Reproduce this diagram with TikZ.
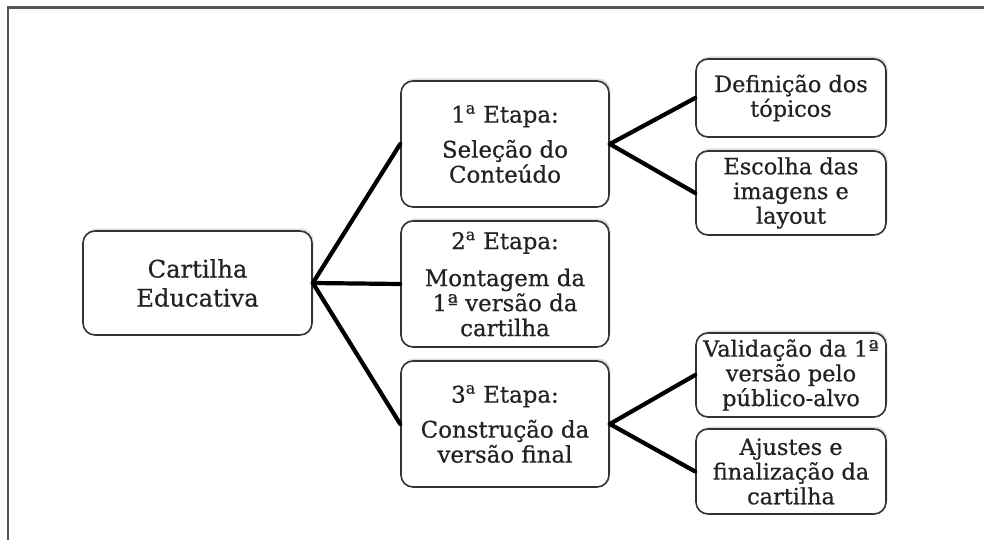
\documentclass[tikz,border=0pt]{standalone}
\usepackage{fontspec}
\setmainfont{DejaVu Serif}[FakeBold=0.6]
\usetikzlibrary{shadows}
\definecolor{boxline}{HTML}{333333}
\definecolor{framecol}{HTML}{555555}
\definecolor{txt}{HTML}{222222}
\tikzset{
  box/.style={draw=boxline, line width=1.6pt, rounded corners=12pt, fill=white,
    align=center, inner sep=0pt, text=txt,
    drop shadow={opacity=0.25, shadow xshift=1.5pt, shadow yshift=2.5pt}},
  link/.style={draw=black, line width=4.2pt, line cap=round},
  bigtxt/.style={font=\fontsize{24.2}{29}\selectfont},
  midtxt/.style={font=\fontsize{22.9}{25}\selectfont},
  smltxt/.style={font=\fontsize{22.4}{24.7}\selectfont},
}
\begin{document}
\begin{tikzpicture}[x=1pt,y=-1pt]
\useasboundingbox (0,0) rectangle (984,540);
\fill[white] (0,0) rectangle (984,540);
\coordinate (frtl) at (8,7.5);
\coordinate (frtr) at (990,7.5);
\coordinate (frbl) at (8,545);
\draw[framecol, line width=2.2pt] (frtr) -- (frtl) -- (frbl);

\node[box, bigtxt, minimum width=229pt, minimum height=104pt] (cart) at (197.5,283) {Cartilha\\Educativa};
\node[box, midtxt, minimum width=208pt, minimum height=126pt] (e1) at (505,144) {1\textsuperscript{a} Etapa:\\[10pt]Seleção do\\Conteúdo};
\node[box, midtxt, minimum width=208pt, minimum height=126pt] (e2) at (505,284) {2\textsuperscript{a} Etapa:\\[12pt]Montagem da\\1ª versão da\\cartilha};
\node[box, midtxt, minimum width=208pt, minimum height=126pt] (e3) at (505,424) {3\textsuperscript{a} Etapa:\\[10pt]Construção da\\versão final};

\node[box, smltxt, minimum width=190pt, minimum height=78pt] (def) at (791,98) {Definição dos\\tópicos};
\node[box, smltxt, minimum width=190pt, minimum height=84pt] (esc) at (791,193) {Escolha das\\imagens e\\layout};
\node[box, smltxt, minimum width=190pt, minimum height=84pt] (val) at (791,375) {Validação da 1ª\\versão pelo\\público-alvo};
\node[box, smltxt, minimum width=190pt, minimum height=85pt] (aju) at (791,471.5) {Ajustes e\\finalização da\\cartilha};

\draw[link] (cart.east) -- (e1.west);
\draw[link] (cart.east) -- (e2.west);
\draw[link] (cart.east) -- (e3.west);
\draw[link] (e1.east) -- (def.west);
\draw[link] (e1.east) -- (esc.west);
\draw[link] (e3.east) -- (val.west);
\draw[link] (e3.east) -- (aju.west);
\end{tikzpicture}
\end{document}
